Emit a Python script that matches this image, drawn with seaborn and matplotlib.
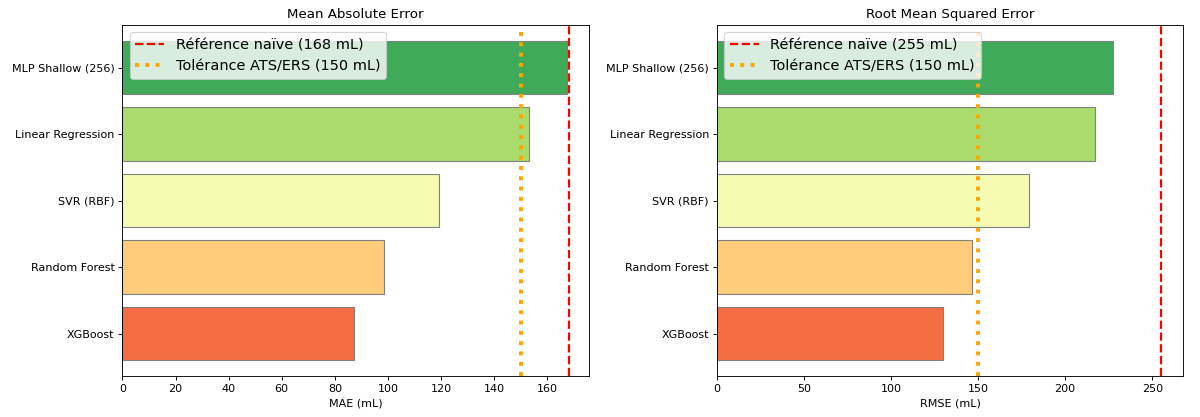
import numpy as np
import pandas as pd
import matplotlib
matplotlib.use('Agg')
import matplotlib.pyplot as plt
import seaborn as sns

# model results (mL)
models = ['MLP Shallow (256)', 'Linear Regression', 'SVR (RBF)', 'Random Forest', 'XGBoost']
mae = [167.3, 153.2, 119.3, 98.6, 87.2]
rmse = [227.2, 217.2, 179.3, 146.3, 130.0]

baseline_mae = 168
baseline_rmse = 255
tolerance = 150

colors = plt.cm.RdYlGn(np.linspace(0.85, 0.2, len(models)))

df = pd.DataFrame({'Model': models, 'MAE': mae, 'RMSE': rmse})

fig, axes = plt.subplots(1, 2, figsize=(15, 5.2125), dpi=80)
plt.subplots_adjust(left=0.102, right=0.986, top=0.94, bottom=0.098, wspace=0.274)

panels = [
    ('MAE', 'Mean Absolute Error', 'MAE (mL)', baseline_mae),
    ('RMSE', 'Root Mean Squared Error', 'RMSE (mL)', baseline_rmse),
]

for ax, (col, title, xlabel, base) in zip(axes, panels):
    sns.barplot(data=df, x=col, y='Model', hue='Model', palette=list(colors),
                saturation=1, legend=False, edgecolor='gray', linewidth=1,
                width=0.8, orient='h', ax=ax)
    ax.axvline(base, color='red', linestyle='--', linewidth=2,
               label=f'Référence naïve ({base} mL)')
    ax.axvline(tolerance, color='orange', linestyle=':', linewidth=3.5,
               label=f'Tolérance ATS/ERS ({tolerance} mL)')
    ax.margins(y=0.05)
    ax.autoscale(enable=True, axis='y')
    ax.set_title(title, fontsize=12)
    ax.set_xlabel(xlabel)
    ax.set_ylabel('')
    ax.legend(loc='upper left', fontsize=13)

plt.savefig('out.png', dpi=80)
